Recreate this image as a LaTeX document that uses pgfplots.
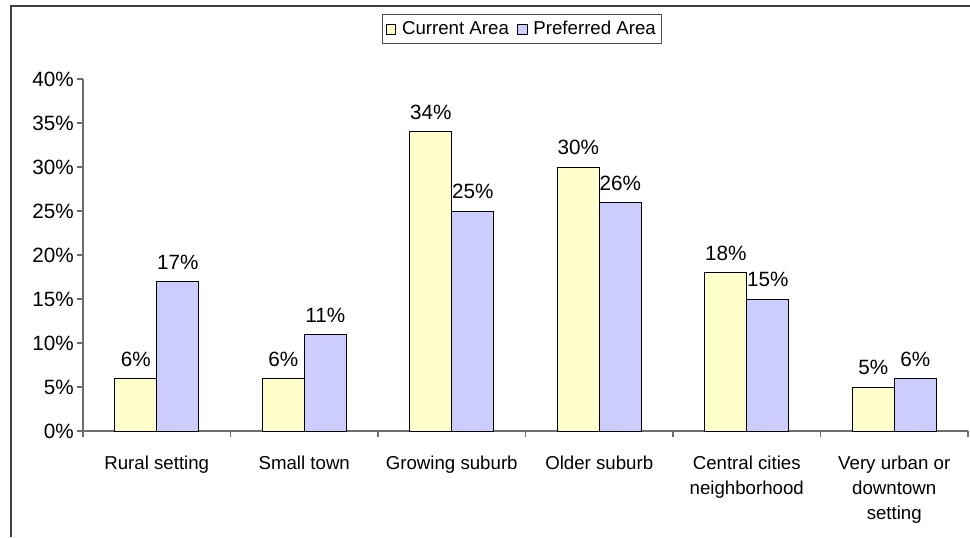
\documentclass[border=0pt]{standalone}
\usepackage{pgfplots}
\pgfplotsset{compat=1.18}
\usepackage{fontspec}
\setmainfont{Liberation Sans}

\definecolor{curyellow}{HTML}{FFFFCC}
\definecolor{prefblue}{HTML}{CCCCFF}
\definecolor{axisgray}{HTML}{6E6E6E}

\begin{document}
\fontsize{14}{18.75}\selectfont
\begin{tikzpicture}
  % picture size: 970 x 537 px at 0.75pt per px
  \useasboundingbox (0,0) rectangle (727.5pt,-402.75pt);
  % outer chart frame (only top and left edge are visible)
  \draw[line width=1.3pt, black!75] (8.25pt,-402.75pt) -- (8.25pt,-4.5pt) -- (727.5pt,-4.5pt);

  \begin{axis}[
    at={(62.25pt,-323.25pt)}, anchor=south west,
    scale only axis,
    width=663.75pt, height=264pt,
    ybar=0pt, bar width=31.5pt,
    xmin=-0.5, xmax=5.5,
    ymin=0, ymax=40,
    axis x line*=bottom, axis y line*=left,
    axis line style={axisgray, line width=0.8pt},
    tick style={axisgray, line width=0.8pt},
    tick align=outside,
    xtick={0,1,2,3,4,5},
    xticklabels={Rural setting, Small town, Growing suburb, Older suburb,
      Central cities\\neighborhood, Very urban or\\downtown\\setting},
    xticklabel style={align=center, anchor=north, yshift=-9pt,
      font=\fontsize{14}{18.75}\selectfont},
    major x tick style={draw=none},
    minor xtick={-0.5,0.5,1.5,2.5,3.5,4.5,5.5},
    minor tick length=4.5pt,
    ytick={0,5,10,15,20,25,30,35,40},
    yticklabels={0\%,5\%,10\%,15\%,20\%,25\%,30\%,35\%,40\%},
    major tick length=4.5pt,
    yticklabel style={font=\fontsize{15.5}{17}\selectfont, xshift=2.5pt},
    /pgf/number format/assume math mode=true,
    nodes near coords={\pgfmathprintnumber{\pgfplotspointmeta}\%},
    every node near coord/.append style={font=\fontsize{15.5}{17}\selectfont,
      text=black, yshift=4pt},
    legend columns=2,
    legend style={at={(0.5,1)}, anchor=center, yshift=37.5pt, xshift=-2.6pt,
      draw=black!70, line width=0.6pt, fill=white,
      font=\fontsize{14}{16}\selectfont, inner sep=2.5pt,
      /tikz/every odd column/.append style={column sep=2.5pt},
      /tikz/every even column/.append style={column sep=4pt}},
    legend image code/.code={%
      \draw[#1, draw=black, line width=0.5pt] (0pt,-3.7pt) rectangle (7.4pt,3.7pt);},
  ]
    \addplot[fill=curyellow, draw=black, line width=0.6pt] coordinates {
      (0,6) (1,6) (2,34) (3,30) (4,18) (5,5)};
    \addplot[fill=prefblue, draw=black, line width=0.6pt] coordinates {
      (0,17) (1,11) (2,25) (3,26) (4,15) (5,6)};
    \legend{Current Area, Preferred Area}
  \end{axis}
\end{tikzpicture}
\end{document}
